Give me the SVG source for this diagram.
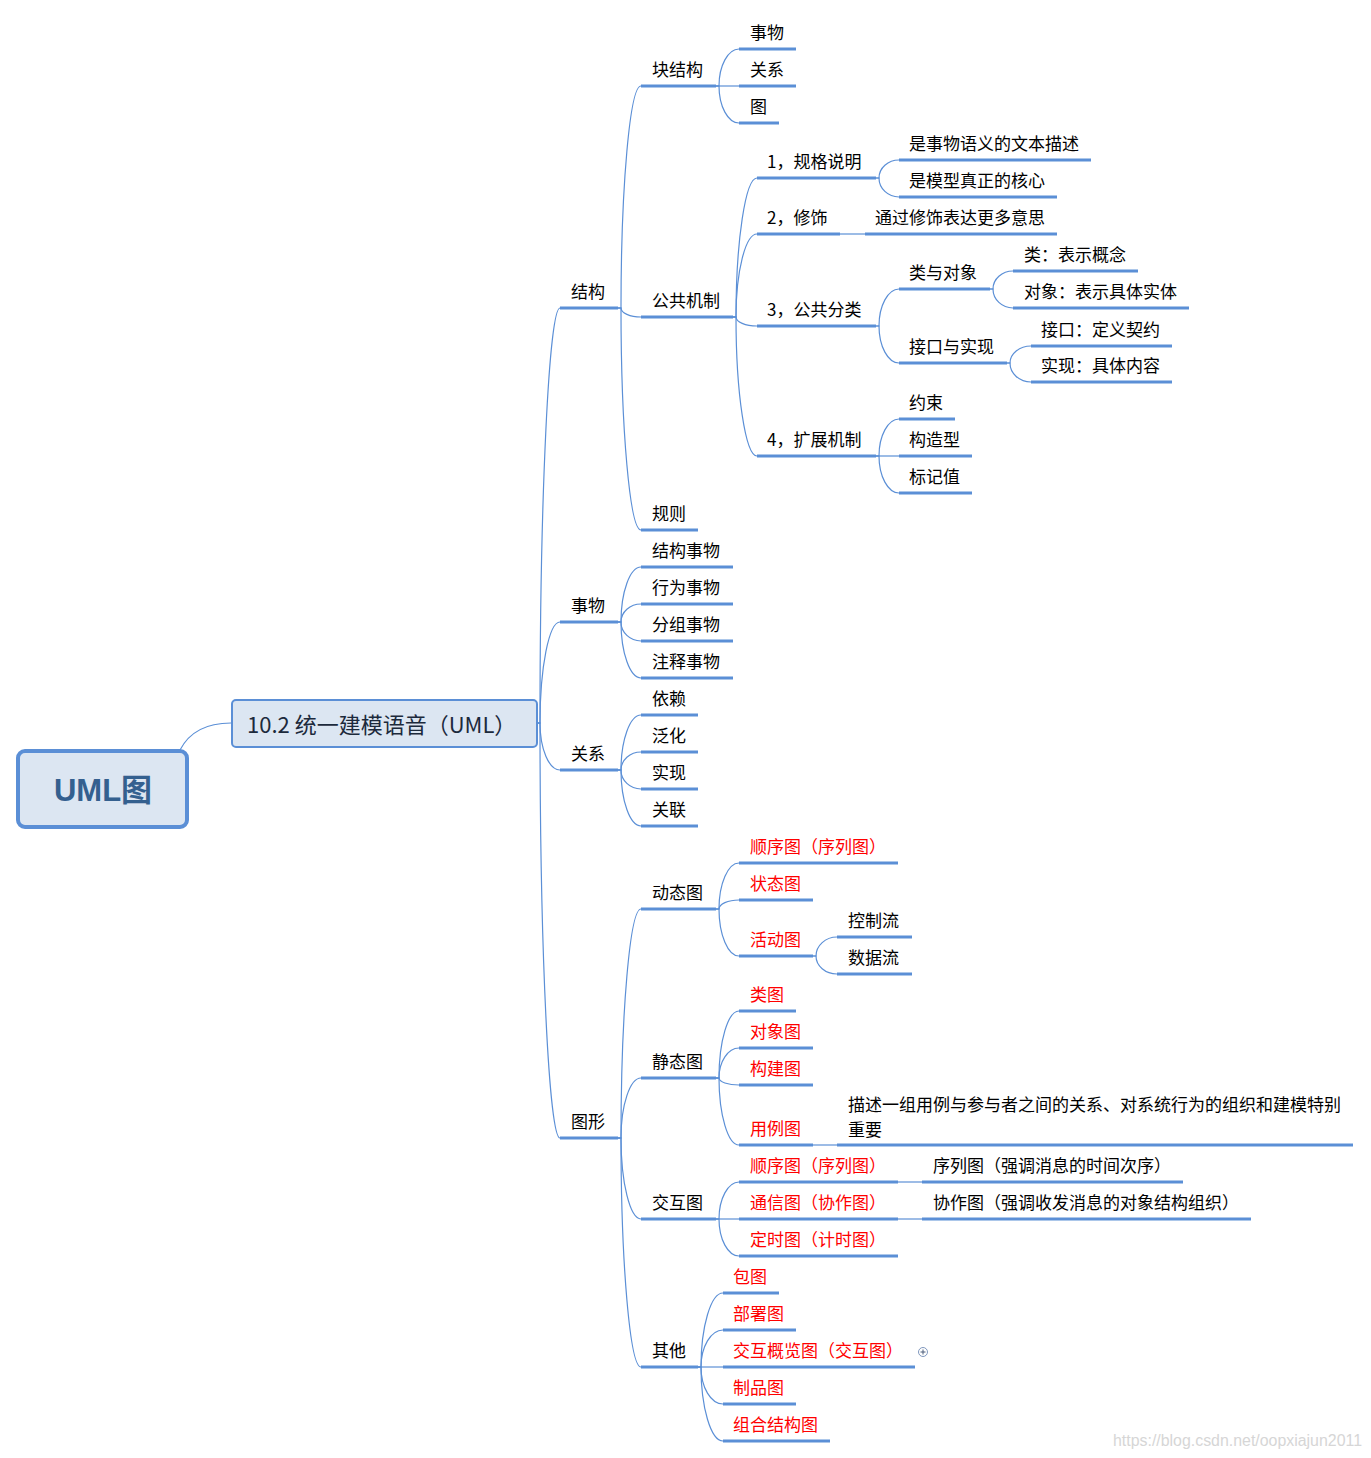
<svg xmlns="http://www.w3.org/2000/svg" width="1371" height="1458" viewBox="0 0 1371 1458">
  <style>
    .ul { stroke: #5b8fd6; stroke-width: 3; fill: none; }
    .cn { stroke: #5b8fd6; stroke-width: 1.2; fill: none; }
    .t { font-family: "Noto Sans CJK SC", "Microsoft YaHei", sans-serif; font-size: 17px; fill: #000; }
    .r { fill: #ff0000; }
  </style>
  <rect width="1371" height="1458" fill="#ffffff"/>

  <!-- connectors: short stub, then a quarter-ellipse bend into each child underline -->
  <g id="connectors">
    <path class="cn" d="M180,750 Q194,723 231,723"/>
    <!-- main topic to level 2 -->
    <path class="cn" d="M537,723 H540 C540,494.8 549,308 560,308"/>
    <path class="cn" d="M537,723 H540 C540,667.5 549,622 560,622"/>
    <path class="cn" d="M537,723 H540 C540,748.9 549,770 560,770"/>
    <path class="cn" d="M537,723 H540 C540,951.3 549,1138 560,1138"/>
    <!-- 结构 -->
    <path class="cn" d="M618,308 H621 C621,185.9 630,86 641,86"/>
    <path class="cn" d="M618,308 H621 C621,313 630,317 641,317"/>
    <path class="cn" d="M618,308 H621 C621,430.1 630,530 641,530"/>
    <!-- 块结构 -->
    <path class="cn" d="M716,86 H719 C719,65.7 728,49 739,49"/>
    <path class="cn" d="M716,86 H739"/>
    <path class="cn" d="M716,86 H719 C719,106.4 728,123 739,123"/>
    <!-- 公共机制 -->
    <path class="cn" d="M733,317 H736 C736,240.6 745.5,178 757,178"/>
    <path class="cn" d="M733,317 H736 C736,271.4 745.5,234 757,234"/>
    <path class="cn" d="M733,317 H736 C736,322 745.5,326 757,326"/>
    <path class="cn" d="M733,317 H736 C736,393.5 745.5,456 757,456"/>
    <!-- 1，规格说明 -->
    <path class="cn" d="M876,178 H879 C879,168.1 888,160 899,160"/>
    <path class="cn" d="M876,178 H879 C879,188.5 888,197 899,197"/>
    <!-- 2，修饰 -->
    <path class="cn" d="M840,234 H865"/>
    <!-- 3，公共分类 -->
    <path class="cn" d="M876,326 H879 C879,305.7 888,289 899,289"/>
    <path class="cn" d="M876,326 H879 C879,346.4 888,363 899,363"/>
    <!-- 类与对象 -->
    <path class="cn" d="M990,289 H993 C993,279.1 1002,271 1013,271"/>
    <path class="cn" d="M990,289 H993 C993,299.5 1002,308 1013,308"/>
    <!-- 接口与实现 -->
    <path class="cn" d="M1007,363 H1010 C1010,353.7 1019.5,346 1031,346"/>
    <path class="cn" d="M1007,363 H1010 C1010,373.5 1019.5,382 1031,382"/>
    <!-- 4，扩展机制 -->
    <path class="cn" d="M876,456 H879 C879,435.7 888,419 899,419"/>
    <path class="cn" d="M876,456 H899"/>
    <path class="cn" d="M876,456 H879 C879,476.4 888,493 899,493"/>
    <!-- 事物 -->
    <path class="cn" d="M618,622 H621 C621,591.8 630,567 641,567"/>
    <path class="cn" d="M618,622 H621 C621,612.1 630,604 641,604"/>
    <path class="cn" d="M618,622 H621 C621,632.5 630,641 641,641"/>
    <path class="cn" d="M618,622 H621 C621,652.8 630,678 641,678"/>
    <!-- 关系 -->
    <path class="cn" d="M618,770 H621 C621,739.8 630,715 641,715"/>
    <path class="cn" d="M618,770 H621 C621,760.1 630,752 641,752"/>
    <path class="cn" d="M618,770 H621 C621,780.5 630,789 641,789"/>
    <path class="cn" d="M618,770 H621 C621,800.8 630,826 641,826"/>
    <!-- 图形 -->
    <path class="cn" d="M618,1138 H621 C621,1012.1 630,909 641,909"/>
    <path class="cn" d="M618,1138 H621 C621,1105 630,1078 641,1078"/>
    <path class="cn" d="M618,1138 H621 C621,1182.6 630,1219 641,1219"/>
    <path class="cn" d="M618,1138 H621 C621,1264 630,1367 641,1367"/>
    <!-- 动态图 -->
    <path class="cn" d="M716,909 H719 C719,883.7 728,863 739,863"/>
    <path class="cn" d="M716,909 H719 C719,904.1 728,900 739,900"/>
    <path class="cn" d="M716,909 H719 C719,934.9 728,956 739,956"/>
    <!-- 活动图 -->
    <path class="cn" d="M813,956 H816 C816,945.6 825.5,937 837,937"/>
    <path class="cn" d="M813,956 H816 C816,965.9 825.5,974 837,974"/>
    <!-- 静态图 -->
    <path class="cn" d="M716,1078 H719 C719,1041.2 728,1011 739,1011"/>
    <path class="cn" d="M716,1078 H719 C719,1061.5 728,1048 739,1048"/>
    <path class="cn" d="M716,1078 H719 C719,1081.9 728,1085 739,1085"/>
    <path class="cn" d="M716,1078 H719 C719,1114.9 728,1145 739,1145"/>
    <path class="cn" d="M813,1145 H837"/>
    <!-- 交互图 -->
    <path class="cn" d="M716,1219 H719 C719,1198.7 728,1182 739,1182"/>
    <path class="cn" d="M716,1219 H739"/>
    <path class="cn" d="M716,1219 H719 C719,1239.4 728,1256 739,1256"/>
    <path class="cn" d="M898,1182 H922"/>
    <path class="cn" d="M898,1219 H922"/>
    <!-- 其他 -->
    <path class="cn" d="M698,1367 H701 C701,1326.3 710.9,1293 723,1293"/>
    <path class="cn" d="M698,1367 H701 C701,1346.7 710.9,1330 723,1330"/>
    <path class="cn" d="M698,1367 H723"/>
    <path class="cn" d="M698,1367 H701 C701,1387.4 710.9,1404 723,1404"/>
    <path class="cn" d="M698,1367 H701 C701,1407.7 710.9,1441 723,1441"/>
  </g>

  <!-- central topic -->
  <g id="n-root">
    <rect x="18" y="751" width="169" height="76" rx="7" fill="#dce6f2" stroke="#5b8fd6" stroke-width="4"/>
    <text x="103" y="801" text-anchor="middle" font-family="'Liberation Sans', 'Noto Sans CJK SC', sans-serif" font-size="31" font-weight="bold" fill="#34608f">UML图</text>
  </g>
  <g id="n-main">
    <rect x="232" y="700" width="305" height="47" rx="4" fill="#dce6f2" stroke="#5b8fd6" stroke-width="2"/>
    <text x="247" y="733" font-family="'Noto Sans CJK SC', 'Microsoft YaHei', sans-serif" font-size="22" fill="#1c2a3c">10.2 统一建模语音（UML）</text>
  </g>

  <!-- level 2 -->
  <g id="n-jiegou"><line class="ul" x1="560" y1="308" x2="618" y2="308"/><text class="t" x="571" y="298">结构</text></g>
  <g id="n-shiwu"><line class="ul" x1="560" y1="622" x2="618" y2="622"/><text class="t" x="571" y="612">事物</text></g>
  <g id="n-guanxi"><line class="ul" x1="560" y1="770" x2="618" y2="770"/><text class="t" x="571" y="760">关系</text></g>
  <g id="n-tuxing"><line class="ul" x1="560" y1="1138" x2="618" y2="1138"/><text class="t" x="571" y="1128">图形</text></g>

  <!-- 结构 branch -->
  <g id="n-kuaijiegou"><line class="ul" x1="641" y1="86" x2="716" y2="86"/><text class="t" x="652" y="76">块结构</text></g>
  <g id="n-kj-shiwu"><line class="ul" x1="739" y1="49" x2="796" y2="49"/><text class="t" x="750" y="39">事物</text></g>
  <g id="n-kj-guanxi"><line class="ul" x1="739" y1="86" x2="796" y2="86"/><text class="t" x="750" y="76">关系</text></g>
  <g id="n-kj-tu"><line class="ul" x1="739" y1="123" x2="779" y2="123"/><text class="t" x="750" y="113">图</text></g>

  <g id="n-gonggongjizhi"><line class="ul" x1="641" y1="317" x2="733" y2="317"/><text class="t" x="652" y="307">公共机制</text></g>
  <g id="n-guige"><line class="ul" x1="757" y1="178" x2="876" y2="178"/><text class="t" x="767" y="168">1，规格说明</text></g>
  <g id="n-guige-1"><line class="ul" x1="899" y1="160" x2="1091" y2="160"/><text class="t" x="909" y="150">是事物语义的文本描述</text></g>
  <g id="n-guige-2"><line class="ul" x1="899" y1="197" x2="1057" y2="197"/><text class="t" x="909" y="187">是模型真正的核心</text></g>
  <g id="n-xiushi"><line class="ul" x1="757" y1="234" x2="840" y2="234"/><text class="t" x="767" y="224">2，修饰</text></g>
  <g id="n-xiushi-1"><line class="ul" x1="865" y1="234" x2="1057" y2="234"/><text class="t" x="875" y="224">通过修饰表达更多意思</text></g>
  <g id="n-fenlei"><line class="ul" x1="757" y1="326" x2="876" y2="326"/><text class="t" x="767" y="316">3，公共分类</text></g>
  <g id="n-leiduixiang"><line class="ul" x1="899" y1="289" x2="990" y2="289"/><text class="t" x="909" y="279">类与对象</text></g>
  <g id="n-lei"><line class="ul" x1="1013" y1="271" x2="1138" y2="271"/><text class="t" x="1024" y="261">类：表示概念</text></g>
  <g id="n-duixiang"><line class="ul" x1="1013" y1="308" x2="1189" y2="308"/><text class="t" x="1024" y="298">对象：表示具体实体</text></g>
  <g id="n-jiekoushixian"><line class="ul" x1="899" y1="363" x2="1007" y2="363"/><text class="t" x="909" y="353">接口与实现</text></g>
  <g id="n-jiekou"><line class="ul" x1="1031" y1="346" x2="1172" y2="346"/><text class="t" x="1041" y="336">接口：定义契约</text></g>
  <g id="n-shixian-c"><line class="ul" x1="1031" y1="382" x2="1172" y2="382"/><text class="t" x="1041" y="372">实现：具体内容</text></g>
  <g id="n-kuozhan"><line class="ul" x1="757" y1="456" x2="876" y2="456"/><text class="t" x="767" y="446">4，扩展机制</text></g>
  <g id="n-yueshu"><line class="ul" x1="899" y1="419" x2="955" y2="419"/><text class="t" x="909" y="409">约束</text></g>
  <g id="n-gouzaoxing"><line class="ul" x1="899" y1="456" x2="972" y2="456"/><text class="t" x="909" y="446">构造型</text></g>
  <g id="n-biaojizhi"><line class="ul" x1="899" y1="493" x2="972" y2="493"/><text class="t" x="909" y="483">标记值</text></g>
  <g id="n-guize"><line class="ul" x1="641" y1="530" x2="698" y2="530"/><text class="t" x="652" y="520">规则</text></g>

  <!-- 事物 branch -->
  <g id="n-jiegoushiwu"><line class="ul" x1="641" y1="567" x2="733" y2="567"/><text class="t" x="652" y="557">结构事物</text></g>
  <g id="n-xingweishiwu"><line class="ul" x1="641" y1="604" x2="733" y2="604"/><text class="t" x="652" y="594">行为事物</text></g>
  <g id="n-fenzushiwu"><line class="ul" x1="641" y1="641" x2="733" y2="641"/><text class="t" x="652" y="631">分组事物</text></g>
  <g id="n-zhushishiwu"><line class="ul" x1="641" y1="678" x2="733" y2="678"/><text class="t" x="652" y="668">注释事物</text></g>

  <!-- 关系 branch -->
  <g id="n-yilai"><line class="ul" x1="641" y1="715" x2="698" y2="715"/><text class="t" x="652" y="705">依赖</text></g>
  <g id="n-fanhua"><line class="ul" x1="641" y1="752" x2="698" y2="752"/><text class="t" x="652" y="742">泛化</text></g>
  <g id="n-shixian"><line class="ul" x1="641" y1="789" x2="698" y2="789"/><text class="t" x="652" y="779">实现</text></g>
  <g id="n-guanlian"><line class="ul" x1="641" y1="826" x2="698" y2="826"/><text class="t" x="652" y="816">关联</text></g>

  <!-- 图形 branch -->
  <g id="n-dongtaitu"><line class="ul" x1="641" y1="909" x2="716" y2="909"/><text class="t" x="652" y="899">动态图</text></g>
  <g id="n-shunxutu-1"><line class="ul" x1="739" y1="863" x2="898" y2="863"/><text class="t r" x="750" y="853">顺序图（序列图）</text></g>
  <g id="n-zhuangtaitu"><line class="ul" x1="739" y1="900" x2="813" y2="900"/><text class="t r" x="750" y="890">状态图</text></g>
  <g id="n-huodongtu"><line class="ul" x1="739" y1="956" x2="813" y2="956"/><text class="t r" x="750" y="946">活动图</text></g>
  <g id="n-kongzhiliu"><line class="ul" x1="837" y1="937" x2="912" y2="937"/><text class="t" x="848" y="927">控制流</text></g>
  <g id="n-shujuliu"><line class="ul" x1="837" y1="974" x2="912" y2="974"/><text class="t" x="848" y="964">数据流</text></g>

  <g id="n-jingtaitu"><line class="ul" x1="641" y1="1078" x2="716" y2="1078"/><text class="t" x="652" y="1068">静态图</text></g>
  <g id="n-leitu"><line class="ul" x1="739" y1="1011" x2="796" y2="1011"/><text class="t r" x="750" y="1001">类图</text></g>
  <g id="n-duixiangtu"><line class="ul" x1="739" y1="1048" x2="813" y2="1048"/><text class="t r" x="750" y="1038">对象图</text></g>
  <g id="n-goujiantu"><line class="ul" x1="739" y1="1085" x2="813" y2="1085"/><text class="t r" x="750" y="1075">构建图</text></g>
  <g id="n-yongli"><line class="ul" x1="739" y1="1145" x2="813" y2="1145"/><text class="t r" x="750" y="1135">用例图</text></g>
  <g id="n-yongli-desc"><line class="ul" x1="837" y1="1145" x2="1353" y2="1145"/>
    <text class="t" x="848" y="1111">描述一组用例与参与者之间的关系、对系统行为的组织和建模特别</text>
    <text class="t" x="848" y="1136">重要</text></g>

  <g id="n-jiaohutu"><line class="ul" x1="641" y1="1219" x2="716" y2="1219"/><text class="t" x="652" y="1209">交互图</text></g>
  <g id="n-shunxutu-2"><line class="ul" x1="739" y1="1182" x2="898" y2="1182"/><text class="t r" x="750" y="1172">顺序图（序列图）</text></g>
  <g id="n-xulie-desc"><line class="ul" x1="922" y1="1182" x2="1183" y2="1182"/><text class="t" x="933" y="1172">序列图（强调消息的时间次序）</text></g>
  <g id="n-tongxintu"><line class="ul" x1="739" y1="1219" x2="898" y2="1219"/><text class="t r" x="750" y="1209">通信图（协作图）</text></g>
  <g id="n-xiezuo-desc"><line class="ul" x1="922" y1="1219" x2="1251" y2="1219"/><text class="t" x="933" y="1209">协作图（强调收发消息的对象结构组织）</text></g>
  <g id="n-dingshitu"><line class="ul" x1="739" y1="1256" x2="898" y2="1256"/><text class="t r" x="750" y="1246">定时图（计时图）</text></g>

  <g id="n-qita"><line class="ul" x1="641" y1="1367" x2="698" y2="1367"/><text class="t" x="652" y="1357">其他</text></g>
  <g id="n-baotu"><line class="ul" x1="723" y1="1293" x2="779" y2="1293"/><text class="t r" x="733" y="1283">包图</text></g>
  <g id="n-bushutu"><line class="ul" x1="723" y1="1330" x2="796" y2="1330"/><text class="t r" x="733" y="1320">部署图</text></g>
  <g id="n-gailantu"><line class="ul" x1="723" y1="1367" x2="915" y2="1367"/><text class="t r" x="733" y="1357">交互概览图（交互图）</text>
    <circle cx="923" cy="1352" r="4.5" fill="#ffffff" stroke="#7f97bd" stroke-width="1"/>
    <path d="M920.5,1352 H925.5 M923,1349.5 V1354.5" stroke="#4a5d7a" stroke-width="1"/></g>
  <g id="n-zhipintu"><line class="ul" x1="723" y1="1404" x2="796" y2="1404"/><text class="t r" x="733" y="1394">制品图</text></g>
  <g id="n-zuhetu"><line class="ul" x1="723" y1="1441" x2="830" y2="1441"/><text class="t r" x="733" y="1431">组合结构图</text></g>

  <text x="1113" y="1446" font-family="'Liberation Sans', sans-serif" font-size="16" fill="#d6d6d6" textLength="249" lengthAdjust="spacingAndGlyphs">https://blog.csdn.net/oopxiajun2011</text>
</svg>
